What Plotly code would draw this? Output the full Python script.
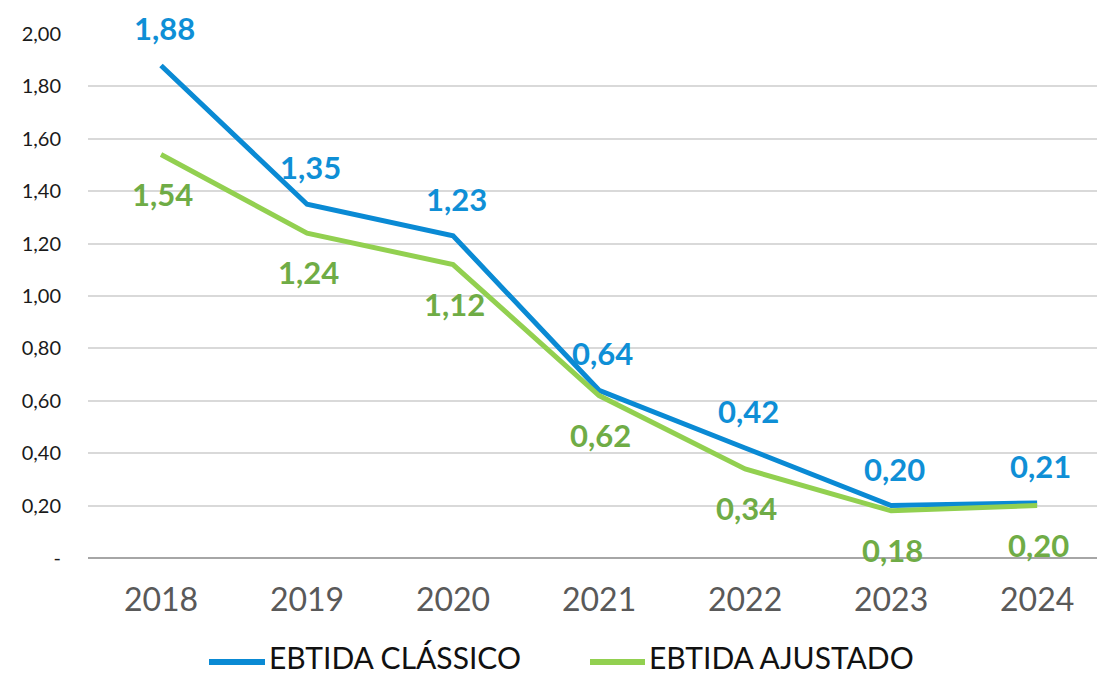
import plotly.graph_objects as go

# EBITDA indicators by year
years = ["2018", "2019", "2020", "2021", "2022", "2023", "2024"]
ebtida_classico = [1.88, 1.35, 1.23, 0.64, 0.42, 0.20, 0.21]
ebtida_ajustado = [1.54, 1.24, 1.12, 0.62, 0.34, 0.18, 0.20]
series_names = ["EBTIDA CLÁSSICO", "EBTIDA AJUSTADO"]

y_ticks = [0.0, 0.2, 0.4, 0.6, 0.8, 1.0, 1.2, 1.4, 1.6, 1.8, 2.0]

BLUE = "#0a8ad4"
BLUE_TEXT = "#0f8fd6"
GREEN = "#92d050"
GREEN_TEXT = "#6fac46"
FONT = "Lato"


def fmt(v):
    return f"{v:.2f}".replace(".", ",")


y_tick_text = ["-" if v == 0 else fmt(v) for v in y_ticks]

fig = go.Figure()
fig.add_trace(go.Scatter(x=years, y=ebtida_classico, mode="lines", name=series_names[0],
                         line=dict(color=BLUE, width=5), showlegend=False))
fig.add_trace(go.Scatter(x=years, y=ebtida_ajustado, mode="lines", name=series_names[1],
                         line=dict(color=GREEN, width=5), showlegend=False))

# value labels: classic above the line, adjusted below (x given as category index)
for i, v in enumerate(ebtida_classico):
    fig.add_annotation(x=i, y=v, text=fmt(v), showarrow=False, yshift=37, xshift=3,
                       font=dict(family=FONT, size=31, color=BLUE_TEXT, weight="bold"))
for i, v in enumerate(ebtida_ajustado):
    fig.add_annotation(x=i, y=v, text=fmt(v), showarrow=False, yshift=-39, xshift=1,
                       font=dict(family=FONT, size=31, color=GREEN_TEXT, weight="bold"))

# legend drawn below the axis
W, H = 1097, 675
L, R, T, B = 88, 0, 34, 117
pw = W - L - R
ph = H - T - B


def px_to_paper_x(px):
    return (px - L) / pw


def px_to_paper_y(py):
    return ((H - B) - py) / ph


legend_items = [(series_names[0], BLUE, 209, 265), (series_names[1], GREEN, 590, 645)]
for name, color, x0, x1 in legend_items:
    fig.add_shape(type="line", xref="paper", yref="paper",
                  x0=px_to_paper_x(x0), x1=px_to_paper_x(x1),
                  y0=px_to_paper_y(662), y1=px_to_paper_y(662),
                  line=dict(color=color, width=6))
    fig.add_annotation(xref="paper", yref="paper", x=px_to_paper_x(x1 + 2),
                       y=px_to_paper_y(657), xanchor="left", yanchor="middle",
                       text=name, showarrow=False,
                       font=dict(family=FONT, size=30, color="#111111"))

fig.update_layout(
    width=W, height=H,
    margin=dict(l=L, r=R, t=T, b=B),
    paper_bgcolor="white", plot_bgcolor="white",
    font=dict(family=FONT),
    showlegend=False,
)
fig.update_xaxes(
    type="category",
    range=[-0.5, 6.41], showgrid=False, zeroline=False, showline=False,
    tickfont=dict(family=FONT, size=32, color="#595959"), ticks="",
    ticklabelstandoff=20,
)
fig.update_yaxes(
    range=[0, 2.0], tickvals=y_ticks, ticktext=y_tick_text,
    showgrid=True, gridcolor="#d9d9d9", gridwidth=1.5,
    zeroline=True, zerolinecolor="#a6a6a6", zerolinewidth=2,
    showline=False, ticks="",
    tickfont=dict(family=FONT, size=20, color="#1a1a1a"),
    ticklabelstandoff=26,
)

fig.write_html("out.html")
